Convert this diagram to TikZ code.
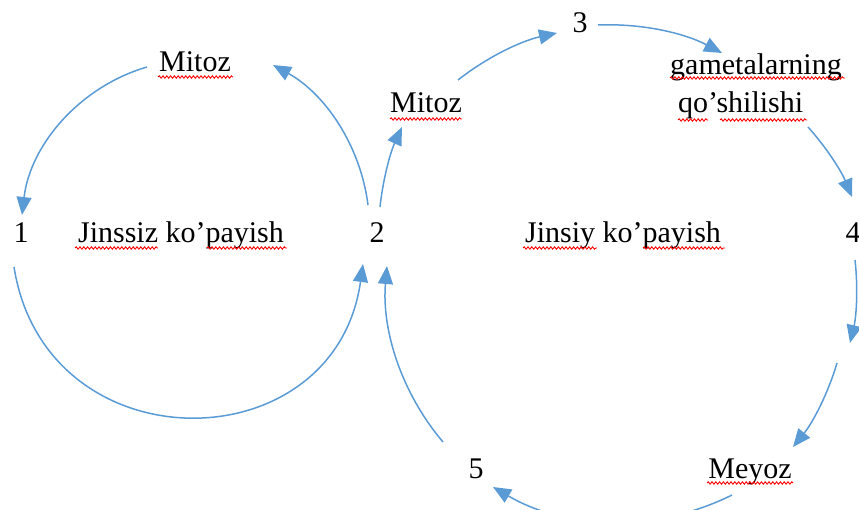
\documentclass[tikz,border=0pt]{standalone}
\usepackage{fontspec}
\setmainfont{Liberation Serif}
\usetikzlibrary{arrows.meta,decorations.pathmorphing}
\definecolor{flowblue}{HTML}{5B9BD5}
\tikzset{
  flow/.style={draw=flowblue, line width=1.5pt, -{Triangle[length=18pt,width=15pt]}},
  lbl/.style={inner sep=0pt, anchor=base, font=\fontsize{30}{36}\selectfont},
  lblw/.style={inner sep=0pt, anchor=base west, font=\fontsize{30}{36}\selectfont},
  wavy/.style={draw=red, line width=0.9pt, decorate, decoration={snake, amplitude=1.2pt, segment length=3.8pt}}
}
\begin{document}
\begin{tikzpicture}[x=1pt,y=1pt]
\useasboundingbox (0,0) rectangle (859,-510);
% labels
\node[lbl] (m1) at (195,-72) {Mitoz};
\node[lbl] (n1) at (21,-243) {1};
\node[lbl] (t1) at (181,-243) {Jinssiz ko’payish};
\node[lbl] (n2) at (377,-243) {2};
\node[lbl] (m2) at (426,-113) {Mitoz};
\node[lbl] (n3) at (580,-33) {3};
\node[lblw] (g1) at (670,-75) {gametalarning};
\node[lblw] (g2) at (678,-113) {qo’shilishi};
\node[lbl] (t2) at (623,-243) {Jinsiy ko’payish};
\node[lbl] (n4) at (853,-243) {4};
\node[lbl] (n5) at (476,-478) {5};
\node[lbl] (mey) at (750,-478) {Meyoz};
% spell-check underlines
\draw[wavy] (158,-77) -- (233,-77);
\draw[wavy] (75,-248) -- (158,-248);
\draw[wavy] (207,-248) -- (287,-248);
\draw[wavy] (390,-119) -- (462,-119);
\draw[wavy] (670,-78) -- (845,-78);
\draw[wavy] (678,-120) -- (708,-120);
\draw[wavy] (720,-120) -- (807,-120);
\draw[wavy] (523,-248) -- (597,-248);
\draw[wavy] (643,-248) -- (725,-248);
\draw[wavy] (707,-483) -- (793,-483);
% arc end points
\coordinate (a1s) at (147,-67);  \coordinate (a1e) at (22,-215);
\coordinate (a2s) at (368,-205); \coordinate (a2e) at (273,-65);
\coordinate (a3s) at (14,-267);  \coordinate (a3e) at (363,-264);
\coordinate (b1s) at (380,-207); \coordinate (b1e) at (402,-127);
\coordinate (b2s) at (458,-80);  \coordinate (b2e) at (557,-33);
\coordinate (b3s) at (598,-25);  \coordinate (b3e) at (722,-53);
\coordinate (b4s) at (808,-127); \coordinate (b4e) at (852,-197);
\coordinate (b5s) at (855,-260); \coordinate (b5e) at (850,-343);
\coordinate (b6s) at (837,-363); \coordinate (b6e) at (793,-447);
\coordinate (b7s) at (732,-495); \coordinate (b7e) at (493,-487);
\coordinate (b8s) at (443,-442); \coordinate (b8e) at (387,-266);
% left cycle
\draw[flow] (a1s) to[bend right=33.5, looseness=0.93] (a1e);
\draw[flow] (a2s) to[bend right=27, looseness=0.9] (a2e);
\draw[flow] (a3s) to[bend right=81.5, looseness=1.485] (a3e);
% right cycle
\draw[flow] (b1s) to[bend left=9.3, looseness=0.86] (b1e);
\draw[flow] (b2s) to[bend left=12.9, looseness=0.86] (b2e);
\draw[flow] (b3s) to[bend left=15.1, looseness=0.87] (b3e);
\draw[flow] (b4s) to[bend left=9.8, looseness=0.86] (b4e);
\draw[flow] (b5s) to[bend left=9.9, looseness=0.86] (b5e);
\draw[flow] (b6s) to[bend left=11.2, looseness=0.86] (b6e);
\draw[flow] (b7s) to[bend left=28.4, looseness=0.91] (b7e);
\draw[flow] (b8s) to[bend left=22.6, looseness=0.89] (b8e);
\end{tikzpicture}
\end{document}
